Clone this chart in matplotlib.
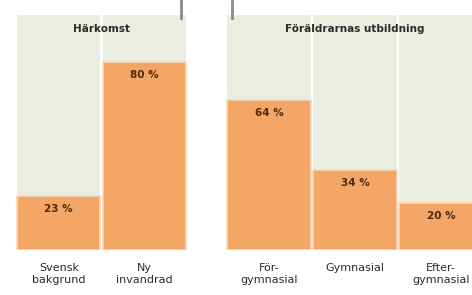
import matplotlib.pyplot as plt
from matplotlib.lines import Line2D

# data
left_title = 'Härkomst'
left_labels = ['Svensk\nbakgrund', 'Ny\ninvandrad']
left_values = [23, 80]

right_title = 'Föräldrarnas utbildning'
right_labels = ['För-\ngymnasial', 'Gymnasial', 'Efter-\ngymnasial']
right_values = [64, 34, 20]

bg = '#e9eee1'
orange = '#f3a665'
txt = '#2b2b2b'
valtxt = '#4a2a0e'

W, H = 472, 295
fig = plt.figure(figsize=(W / 100, H / 100), dpi=100)


def panel(x0, x1, title, labels, values):
    ax = fig.add_axes([x0 / W, (H - 250) / H, (x1 - x0) / W, (250 - 13) / H])
    xs = list(range(len(values)))
    ax.bar(xs, [100] * len(values), width=0.97, color=bg, edgecolor='none')
    ax.bar(xs, values, width=0.97, color=orange, edgecolor='#f8d8b8', linewidth=1.2)
    for x, v in zip(xs, values):
        ax.text(x, v - 3.5, f'{v} %', ha='center', va='top', fontsize=7.5,
                fontweight='bold', color=valtxt)
    for x, lab in zip(xs, labels):
        ax.text(x, -5.5, lab, ha='center', va='top', fontsize=8,
                color=txt, linespacing=1.3)
    ax.set_xlim(-0.5, len(values) - 0.5)
    ax.set_ylim(0, 101)
    ax.axis('off')
    return ax


ax1 = panel(16, 187, left_title, left_labels, left_values)
ax1.text(0.5, 94, left_title, transform=ax1.get_yaxis_transform(), ha='center',
         va='center', fontsize=7.5, fontweight='bold', color=txt)

ax2 = panel(226, 484, right_title, right_labels, right_values)
ax2.text(1, 94, right_title, ha='center', va='center', fontsize=7.5,
         fontweight='bold', color=txt)

# small gray markers at the top
for xp in (181, 232):
    fig.add_artist(Line2D([xp / W, xp / W], [1, 1 - 18 / H], color='#8a8a8a', lw=2))

fig.savefig('out.png', dpi=100, facecolor='white')
